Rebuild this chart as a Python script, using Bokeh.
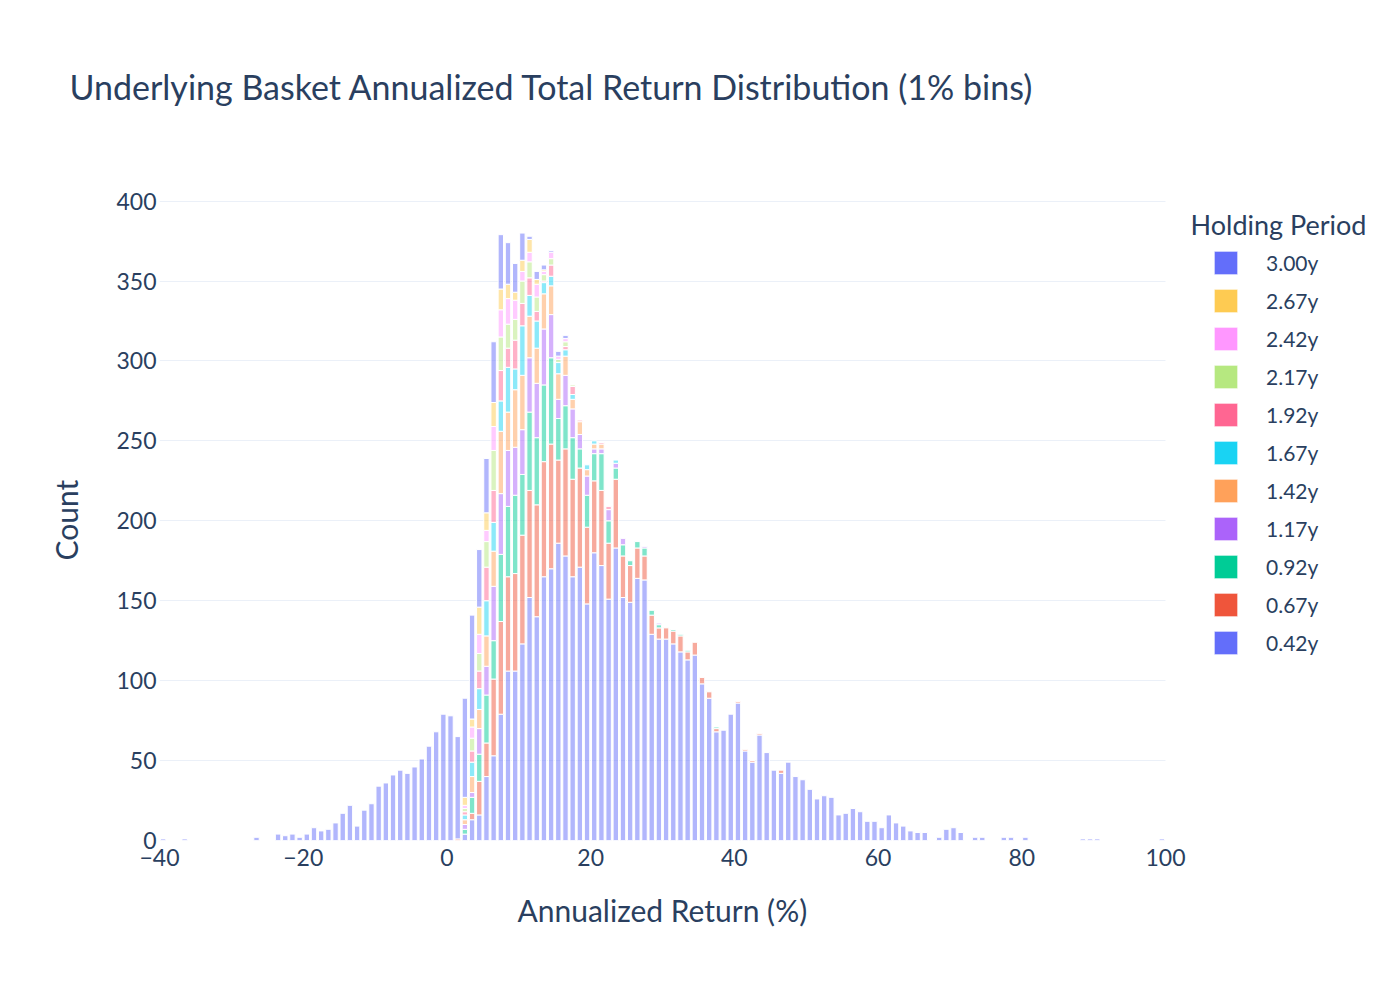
import numpy as np
from bokeh.plotting import figure
from bokeh.models import (ColumnDataSource, Range1d, FixedTicker, Legend, LegendItem,
                          Label, Title, BoxAnnotation, Grid)
from bokeh.embed import file_html
from bokeh.resources import INLINE

# ---------------- data ----------------
BIN_START = -40   # first 1% bin edge
BIN_END = 100     # last bin edge

labels = ["0.42y", "0.67y", "0.92y", "1.17y", "1.42y", "1.67y",
          "1.92y", "2.17y", "2.42y", "2.67y", "3.00y"]
colors = ["#636efa", "#EF553B", "#00cc96", "#ab63fa", "#FFA15A", "#19d3f3",
          "#FF6692", "#B6E880", "#FF97FF", "#FECB52", "#636efa"]

# counts per 1% bin; each list starts at the bin edge given in *_start
y042_start = 2
y042 = [4, 13, 16, 40, 53, 79, 106, 106, 123, 152, 140, 165, 170, 186, 178, 165,
        171, 148, 180, 172, 151, 183, 152, 149, 164, 163, 129, 126, 126, 123, 118,
        113, 116, 98, 89, 68, 69, 79, 86, 56, 49, 66, 55, 44, 42, 49, 40, 38, 32,
        26, 28, 27, 16, 17, 20, 18, 12, 12, 8, 16, 11, 9, 6, 5, 5, 0, 2, 7, 8, 5,
        0, 2, 2, 0, 0, 2, 2, 0, 2, 0, 0, 0, 0, 0, 0, 0, 1, 1, 1, 0, 0, 0, 0, 0,
        0, 0, 0, 1]
y067_start = 1
y067 = [1, 0, 4, 21, 21, 48, 58, 59, 61, 68, 67, 70, 72, 78, 52, 67, 61, 62, 48,
        45, 47, 35, 43, 26, 23, 19, 15, 12, 7, 7, 8, 10, 5, 8, 4, 4, 2, 0, 0, 1,
        1, 1, 1, 0, 0, 2]
y092_start = 2
y092 = [3, 10, 17, 30, 24, 42, 44, 49, 38, 49, 42, 48, 54, 26, 27, 26, 12, 20,
        17, 23, 14, 7, 7, 3, 4, 5, 3, 2, 0, 1, 1, 1, 0, 0, 0, 1]
y117_start = 2
y117 = [3, 3, 16, 18, 34, 38, 35, 30, 28, 34, 34, 35, 27, 12, 19, 18, 9, 12, 3,
        3, 7, 3, 4, 0, 0, 1, 0, 1]
y142_start = 2
y142 = [3, 10, 12, 19, 22, 39, 24, 36, 34, 26, 22, 22, 18, 16, 12, 6, 8, 4, 3, 3]
y167_start = 2
y167 = [3, 9, 13, 22, 18, 19, 28, 13, 31, 13, 17, 7, 6, 7, 4, 3, 0, 3, 2, 0, 0, 2]
y192_start = 2
y192 = [2, 7, 11, 21, 20, 19, 12, 18, 14, 11, 6, 1, 7, 0, 2, 5, 1, 0, 0, 1, 2]
y217_start = 2
y217 = [2, 8, 11, 16, 25, 21, 15, 13, 14, 10, 9, 4, 4, 2, 3, 1]
y242_start = 2
y242 = [2, 7, 12, 7, 15, 17, 16, 12, 6, 6, 8, 2, 4, 2, 2]
y267_start = 2
y267 = [5, 5, 17, 11, 15, 13, 9, 5, 7, 8, 3, 1]
y300_start = -40
y300 = [1, 0, 0, 1, 0, 0, 0, 0, 0, 0, 0, 0, 0, 2, 0, 0, 4, 3, 4, 2, 4, 8, 6, 7,
        11, 17, 22, 9, 19, 23, 34, 36, 41, 44, 42, 46, 51, 59, 68, 79, 78, 64, 62,
        65, 36, 34, 38, 34, 26, 18, 17, 2, 5, 3, 1, 3, 2]

x_ticks = [-40, -20, 0, 20, 40, 60, 80, 100]
x_tick_text = {-40: "\u221240", -20: "\u221220"}
y_ticks = [0, 50, 100, 150, 200, 250, 300, 350, 400]
Y_MAX = 401

title_text = "Underlying Basket Annualized Total Return Distribution (1% bins)"
x_title = "Annualized Return (%)"
y_title = "Count"
legend_title = "Holding Period"

# ---------------- build stack ----------------
starts = [y042_start, y067_start, y092_start, y117_start, y142_start, y167_start,
          y192_start, y217_start, y242_start, y267_start, y300_start]
series = [y042, y067, y092, y117, y142, y167, y192, y217, y242, y267, y300]

nbins = BIN_END - BIN_START
M = np.zeros((len(series), nbins))
for i, (s, vals) in enumerate(zip(starts, series)):
    a = s - BIN_START
    M[i, a:a + len(vals)] = vals
cum = np.cumsum(M, axis=0)
bot = cum - M
centers = np.arange(BIN_START, BIN_END) + 0.5

# ---------------- layout (pixels) ----------------
FIG_W, FIG_H = 1384, 984
PLOT_LEFT, PLOT_RIGHT = 159, 1165      # where -40 and 100 fall
PLOT_TOP, PLOT_BOTTOM = 199, 840
px_per_unit = (PLOT_RIGHT - PLOT_LEFT) / (BIN_END - BIN_START)
x_view_max = BIN_END + (FIG_W - PLOT_RIGHT) / px_per_unit   # room for the legend

FONT = "Lato"
TXT = "#2a3f5f"

p = figure(width=FIG_W, height=FIG_H, output_backend="svg", toolbar_location=None,
           x_range=Range1d(BIN_START, x_view_max), y_range=Range1d(0, Y_MAX),
           min_border_left=PLOT_LEFT, min_border_right=0,
           min_border_top=PLOT_TOP, min_border_bottom=FIG_H - PLOT_BOTTOM)
p.background_fill_color = "white"
p.border_fill_color = "white"
p.outline_line_color = None

# title: empty built-in title, a spacer next to the frame, then the real title
p.title.text = ""
spacer = Title(text=" ", text_font_size="10px", standoff=80)
p.add_layout(spacer, "above")
main_title = Title(text=title_text, text_font=FONT, text_font_size="34px",
                   text_font_style="normal", text_color=TXT, align="left",
                   vertical_align="bottom", offset=-90, standoff=0)
p.add_layout(main_title, "above")

p.xgrid.grid_line_color = None
p.ygrid.grid_line_color = "#EBF0F8"
p.ygrid.grid_line_width = 1
p.ygrid.ticker = FixedTicker(ticks=y_ticks)
p.add_layout(Grid(dimension=1, ticker=FixedTicker(ticks=[0]),
                  grid_line_color="#EBF0F8", grid_line_width=2))
# blank out the grid where the legend sits (right of the x range)
p.add_layout(BoxAnnotation(left=BIN_END, fill_color="white", fill_alpha=1.0,
                           line_alpha=0, level="underlay"))

for ax in (p.xaxis[0], p.yaxis[0]):
    ax.axis_line_color = None
    ax.major_tick_line_color = None
    ax.minor_tick_line_color = None
    ax.major_tick_out = 0
    ax.major_tick_in = 0
    ax.minor_tick_out = 0
    ax.minor_tick_in = 0
    ax.major_label_text_font = FONT
    ax.major_label_text_font_size = "23px"
    ax.major_label_text_color = TXT
    ax.axis_label_text_font = FONT
    ax.axis_label_text_font_size = "30px"
    ax.axis_label_text_font_style = "normal"
    ax.axis_label_text_color = TXT
p.xaxis.ticker = FixedTicker(ticks=x_ticks)
p.xaxis.major_label_overrides = x_tick_text
p.xaxis.bounds = (BIN_START, BIN_END)
p.yaxis.ticker = FixedTicker(ticks=y_ticks)
p.yaxis.axis_label = y_title
p.xaxis.major_label_standoff = 8
p.yaxis.major_label_standoff = 3
p.yaxis.axis_label_standoff = 29

# x-axis title, centred under the -40..100 span (not under the legend area)
x_title_width = 290
x_title_offset = int(round((PLOT_RIGHT - PLOT_LEFT) / 2 - x_title_width / 2))
p.add_layout(Title(text=x_title, text_font=FONT, text_font_size="30px",
                   text_font_style="normal", text_color=TXT, align="left",
                   vertical_align="top", offset=x_title_offset, standoff=46),
             "below")

legend_renderers = []
for i in range(len(series)):
    top = cum[i].copy()
    bottom = bot[i].copy()
    zero = M[i] == 0
    top[zero] = np.nan
    bottom[zero] = np.nan
    src = ColumnDataSource(dict(x=centers, top=top, bottom=bottom))
    p.vbar(x="x", top="top", bottom="bottom", width=0.75, source=src,
           fill_color=colors[i], fill_alpha=0.5, line_color="white", line_width=1)
    r = p.vbar(x="x", top="top", bottom="bottom", width=0.75, source=src,
               fill_color=colors[i], fill_alpha=1.0, line_color="white",
               line_alpha=0.5, line_width=1, visible=False)
    legend_renderers.append(r)

items = [LegendItem(label=labels[i], renderers=[legend_renderers[i]])
         for i in reversed(range(len(series)))]
legend = Legend(items=items, location=(1211 - PLOT_LEFT, 183),
                orientation="vertical")
legend.label_text_font = FONT
legend.label_text_font_size = "21px"
legend.label_text_color = TXT
legend.glyph_width = 29
legend.glyph_height = 29
legend.label_height = 29
legend.label_standoff = 26
legend.spacing = 9
legend.padding = 0
legend.margin = 0
legend.border_line_color = None
legend.background_fill_alpha = 0
legend.inactive_fill_alpha = 0
legend.click_policy = "none"
p.add_layout(legend, "center")

p.add_layout(Label(x=1190 - PLOT_LEFT, y=PLOT_BOTTOM - 224, x_units="screen",
                   y_units="screen", text=legend_title, text_font=FONT,
                   text_font_size="27px", text_color=TXT, text_align="left",
                   text_baseline="middle"))

open("out.html", "w").write(file_html(p, INLINE))
